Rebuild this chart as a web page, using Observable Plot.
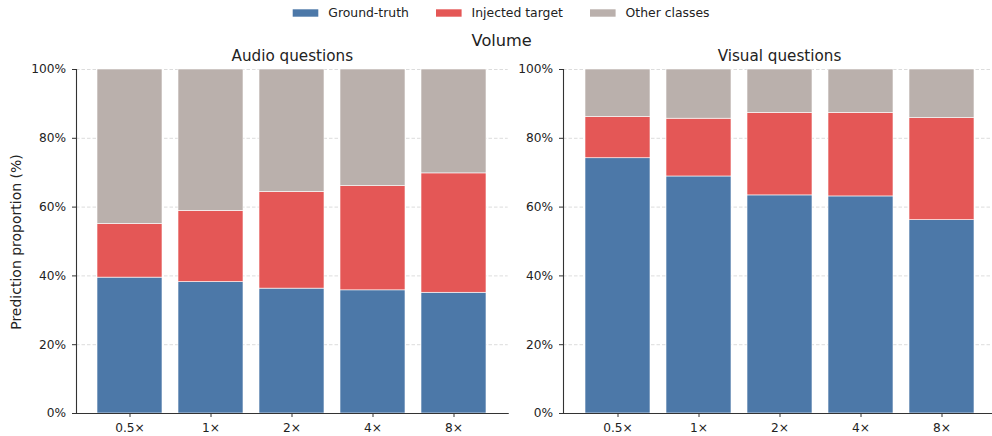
<!DOCTYPE html>
<html>
<head>
<meta charset="utf-8">
<script src="https://cdn.jsdelivr.net/npm/d3@7"></script>
<script src="https://cdn.jsdelivr.net/npm/@observablehq/plot@0.6"></script>
<style>
  html, body { margin: 0; padding: 0; background: #fff; }
  #chart { position: relative; width: 992px; height: 436px; overflow: hidden; font-family: "DejaVu Sans", sans-serif; color: #222; }
  #chart > svg { position: absolute; top: 0; }
</style>
</head>
<body>
<div id="chart"></div>
<script>
// Volume multipliers on the x axis
const ratios = ["0.5×", "1×", "2×", "4×", "8×"];
// Stacked prediction categories, bottom to top
const segments = ["Ground-truth", "Injected target", "Other classes"];
const segmentColors = ["#4c78a8", "#e45756", "#bab0ac"];
const yTicks = [0, 20, 40, 60, 80, 100];

// Audio questions: share of predictions (%) per volume
const audioGroundTruth = [39.5, 38.2, 36.3, 35.8, 35.1];
const audioInjected    = [15.6, 20.7, 28.1, 30.3, 34.7];
const audioOther       = [44.9, 41.1, 35.6, 33.9, 30.2];

// Visual questions: share of predictions (%) per volume
const visualGroundTruth = [74.2, 68.9, 63.4, 63.1, 56.2];
const visualInjected    = [12.0, 16.8, 24.0, 24.3, 29.7];
const visualOther       = [13.8, 14.3, 12.6, 12.6, 14.1];

const font = "DejaVu Sans, sans-serif";
const ink = "#222";
const spine = "#333";

function rowsFor(series) {
  const rows = [];
  ratios.forEach((ratio, i) => {
    segments.forEach((segment, k) => rows.push({ratio, segment, value: series[k][i]}));
  });
  return rows;
}

function panel(title, series, {width, marginLeft, marginRight}) {
  return Plot.plot({
    width,
    height: 436,
    marginTop: 69,
    marginBottom: 23,
    marginLeft,
    marginRight,
    style: {fontFamily: font, fontSize: "12.2px", color: ink, background: "transparent", overflow: "visible"},
    x: {domain: ratios, paddingInner: 0.2, paddingOuter: 0.244, label: null},
    y: {domain: [0, 100], label: null},
    color: {domain: segments, range: segmentColors},
    marks: [
      Plot.gridY(yTicks, {stroke: "#c8c8c8", strokeOpacity: 0.8, strokeWidth: 0.8, strokeDasharray: "3.5,2"}),
      Plot.barY(rowsFor(series), {x: "ratio", y: "value", fill: "segment", stroke: "white", strokeWidth: 0.6}),
      Plot.axisY(yTicks, {tickFormat: d => d + "%", tickSize: 4, tickPadding: 6.5, label: null, stroke: spine}),
      Plot.axisX({tickSize: 4, tickPadding: 6, label: null, stroke: spine}),
      Plot.frame({anchor: "left", stroke: spine, strokeWidth: 1.1}),
      Plot.frame({anchor: "bottom", stroke: spine, strokeWidth: 1.1}),
      Plot.text([title], {frameAnchor: "top", dy: -9, lineAnchor: "bottom", fontSize: 15.2, fill: ink})
    ]
  });
}

const chart = document.getElementById("chart");

const left = panel("Audio questions", [audioGroundTruth, audioInjected, audioOther],
  {width: 520, marginLeft: 76, marginRight: 12.3});
left.style.left = "0px";
chart.appendChild(left);

const right = panel("Visual questions", [visualGroundTruth, visualInjected, visualOther],
  {width: 495, marginLeft: 63, marginRight: 0});
right.style.left = "500px";
chart.appendChild(right);

// Shared legend, figure title and y-axis label
const overlay = d3.create("svg")
  .attr("width", 992).attr("height", 436)
  .style("left", "0px")
  .style("pointer-events", "none")
  .style("font-family", font);

const legendX = [292.7, 436, 590];
const legend = overlay.append("g");
segments.forEach((name, i) => {
  legend.append("rect")
    .attr("x", legendX[i]).attr("y", 9.3)
    .attr("width", 25.6).attr("height", 7.4)
    .attr("fill", segmentColors[i]);
  legend.append("text")
    .attr("x", legendX[i] + 35.6).attr("y", 17.3)
    .attr("font-size", 12.4).attr("fill", ink)
    .text(name);
});

overlay.append("text")
  .attr("x", 501.7).attr("y", 45.7)
  .attr("text-anchor", "middle")
  .attr("font-size", 16.2).attr("fill", ink)
  .text("Volume");

overlay.append("text")
  .attr("transform", "translate(21,242) rotate(-90)")
  .attr("text-anchor", "middle")
  .attr("font-size", 14).attr("fill", ink)
  .text("Prediction proportion (%)");

chart.appendChild(overlay.node());
</script>
</body>
</html>
